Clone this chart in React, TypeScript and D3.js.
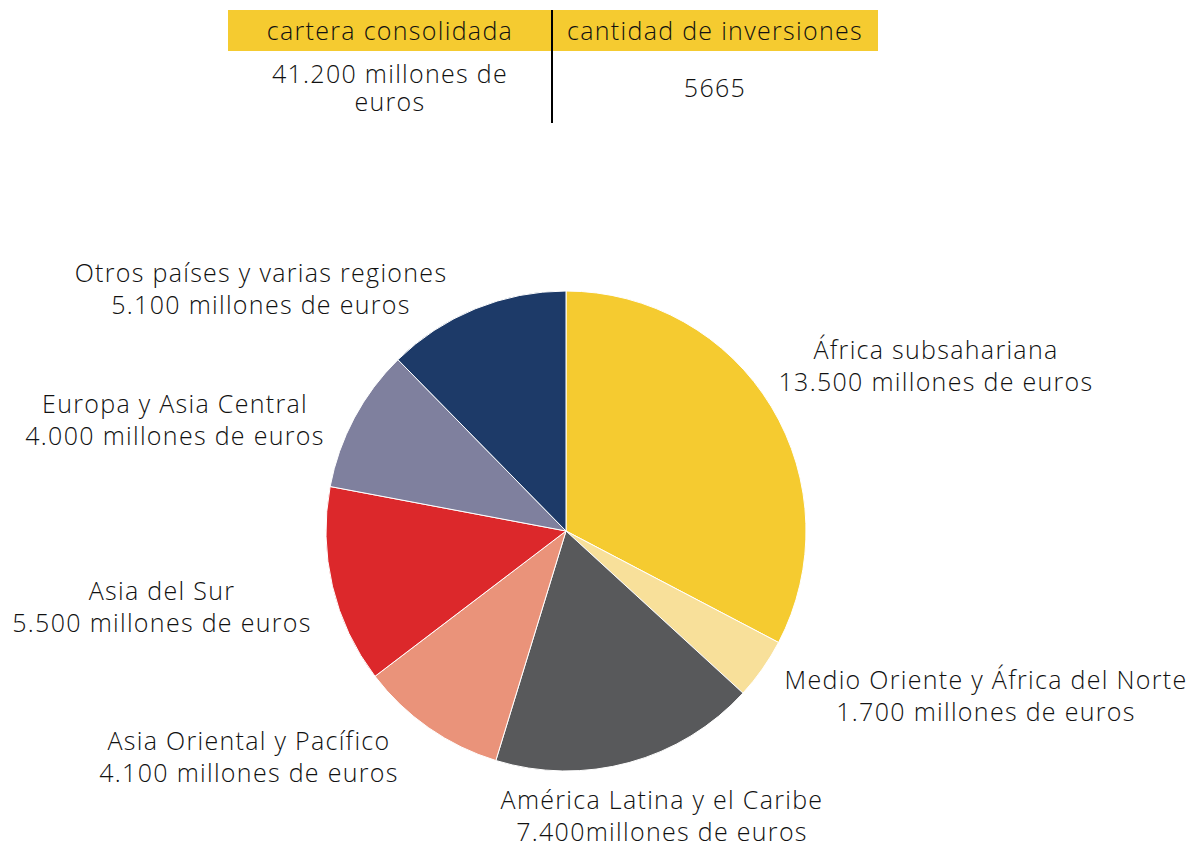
import React, { useEffect, useRef } from "react";
import * as d3 from "d3";

const regions = [
  "África subsahariana",
  "Medio Oriente y África del Norte",
  "América Latina y el Caribe",
  "Asia Oriental y Pacífico",
  "Asia del Sur",
  "Europa y Asia Central",
  "Otros países y varias regiones",
];
const values = [13500, 1700, 7400, 4100, 5500, 4000, 5100];
const valueLabels = [
  "13.500 millones de euros",
  "1.700 millones de euros",
  "7.400millones de euros",
  "4.100 millones de euros",
  "5.500 millones de euros",
  "4.000 millones de euros",
  "5.100 millones de euros",
];
const colors = ["#F5CB30", "#F8E09A", "#58595B", "#EA937A", "#DC282B", "#7F809E", "#1D3A68"];
const labelPos: [number, number][] = [
  [936, 350],
  [986, 680],
  [662, 800],
  [249, 741],
  [162, 591],
  [175, 404],
  [261, 273],
];
const tableHeaders = ["cartera consolidada", "cantidad de inversiones"];
const tableValues = [["41.200 millones de", "euros"], ["5665"]];

export default function App() {
  const ref = useRef<SVGSVGElement>(null);
  useEffect(() => {
    const svg = d3.select(ref.current);
    svg.selectAll("*").remove();
    const font = "'Open Sans', sans-serif";
    const textColor = "#111";
    const addLines = (x: number, y: number, lines: string[], dy: number) => {
      const t = svg.append("text").attr("text-anchor", "middle")
        .attr("font-family", font).attr("font-size", 25).attr("font-weight", 350)
        .attr("letter-spacing", 1.3).attr("fill", textColor);
      lines.forEach((s, j) => t.append("tspan").attr("x", x).attr("y", y + j * dy).text(s));
    };

    // Table
    const tLeft = 228, tMid = 552, tRight = 878;
    svg.append("rect").attr("x", tLeft).attr("y", 10).attr("width", tRight - tLeft).attr("height", 41).attr("fill", "#F5CB30");
    const colCenters = [(tLeft + tMid) / 2, (tMid + tRight) / 2];
    tableHeaders.forEach((h, i) => addLines(colCenters[i], 40, [h], 0));
    tableValues.forEach((lines, i) => {
      const startY = lines.length === 1 ? 97 : 83;
      addLines(colCenters[i], startY, lines, 28);
    });
    svg.append("line").attr("x1", tMid).attr("x2", tMid).attr("y1", 10).attr("y2", 123)
      .attr("stroke", "#000").attr("stroke-width", 2);

    // Pie
    const cx = 566, cy = 531, r = 240;
    const pie = d3.pie<number>().sort(null).value((d) => d);
    const arc = d3.arc<d3.PieArcDatum<number>>().innerRadius(0).outerRadius(r);
    const g = svg.append("g").attr("transform", `translate(${cx},${cy})`);
    g.selectAll("path").data(pie(values)).enter().append("path")
      .attr("d", arc as any).attr("fill", (_, i) => colors[i])
      .attr("stroke", "#fff").attr("stroke-width", 1);

    // Labels
    regions.forEach((name, i) => {
      const [x, y] = labelPos[i];
      addLines(x, y + 9, [name, valueLabels[i]], 32);
    });
  }, []);
  return (
    <svg ref={ref} width={1202} height={847}
      style={{ display: "block", position: "absolute", left: 0, top: 0 }} />
  );
}
